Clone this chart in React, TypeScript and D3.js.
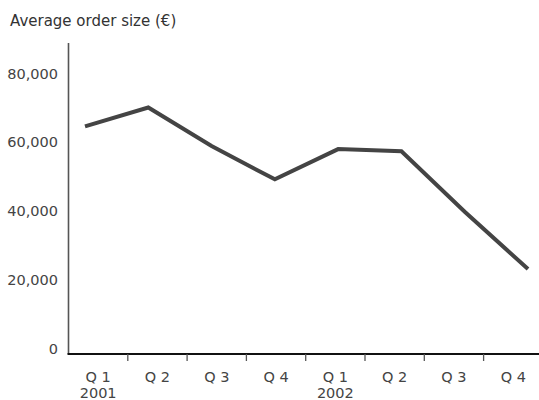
import React, { useEffect, useRef } from "react";
import * as d3 from "d3";

const quarters = ["Q 1", "Q 2", "Q 3", "Q 4", "Q 1", "Q 2", "Q 3", "Q 4"];
const years = ["2001", "", "", "", "2002", "", "", ""];
const orderSize = [66200, 71700, 60500, 50800, 59600, 59000, 41400, 24700];
const yTicks = [0, 20000, 40000, 60000, 80000];
const title = "Average order size (€)";

const W = 539;
const H = 400;
const FONT = "'DejaVu Sans', sans-serif";

export default function App() {
  const ref = useRef<SVGSVGElement>(null);

  useEffect(() => {
    const svg = d3.select(ref.current);
    svg.selectAll("*").remove();

    const left = 68.5;
    const bottom = 354;
    const top = 43;

    const y = d3.scaleLinear().domain([0, 80000]).range([bottom, 79]);
    const band = d3.scaleBand<number>().domain(d3.range(quarters.length)).range([left, left + 59.3 * 8]).padding(0);
    const xLine = d3.scaleLinear().domain([0, quarters.length - 1]).range([85, 528]);

    // title
    svg.append("text")
      .attr("x", 10).attr("y", 26)
      .attr("font-family", FONT).attr("font-size", 15)
      .attr("fill", "#333")
      .text(title);

    // y tick labels
    svg.append("g").selectAll("text").data(yTicks).join("text")
      .attr("x", 58).attr("y", (d) => y(d) - 0.5)
      .attr("text-anchor", "end")
      .attr("font-family", FONT).attr("font-size", 14.5)
      .attr("fill", "#444")
      .text((d) => d3.format(",")(d));

    // y axis line
    svg.append("line")
      .attr("x1", left).attr("x2", left)
      .attr("y1", top).attr("y2", bottom)
      .attr("stroke", "#555").attr("stroke-width", 1.6);

    // x axis
    svg.append("line")
      .attr("x1", left - 1).attr("x2", W)
      .attr("y1", bottom).attr("y2", bottom)
      .attr("stroke", "#111").attr("stroke-width", 1.8);

    svg.append("g").selectAll("line").data(d3.range(1, quarters.length)).join("line")
      .attr("x1", (i) => band(i)!).attr("x2", (i) => band(i)!)
      .attr("y1", bottom).attr("y2", bottom + 7)
      .attr("stroke", "#555").attr("stroke-width", 1.3);

    svg.append("g").selectAll("text").data(quarters).join("text")
      .attr("x", (_, i) => band(i)! + band.bandwidth() / 2)
      .attr("y", 382)
      .attr("text-anchor", "middle")
      .attr("font-family", FONT).attr("font-size", 14.5)
      .attr("fill", "#444")
      .text((d) => d);

    svg.append("g").selectAll("text").data(years).join("text")
      .attr("x", (_, i) => band(i)! + band.bandwidth() / 2)
      .attr("y", 398)
      .attr("text-anchor", "middle")
      .attr("font-family", FONT).attr("font-size", 14.5)
      .attr("fill", "#444")
      .text((d) => d);

    // line
    const line = d3.line<number>()
      .x((_, i) => xLine(i))
      .y((d) => y(d));

    svg.append("path")
      .datum(orderSize)
      .attr("d", line)
      .attr("fill", "none")
      .attr("stroke", "#444")
      .attr("stroke-width", 4)
      .attr("stroke-linejoin", "miter");
  }, []);

  return (
    <svg
      ref={ref}
      width={W}
      height={H}
      style={{ position: "absolute", left: 0, top: 0, background: "#fff" }}
    />
  );
}
